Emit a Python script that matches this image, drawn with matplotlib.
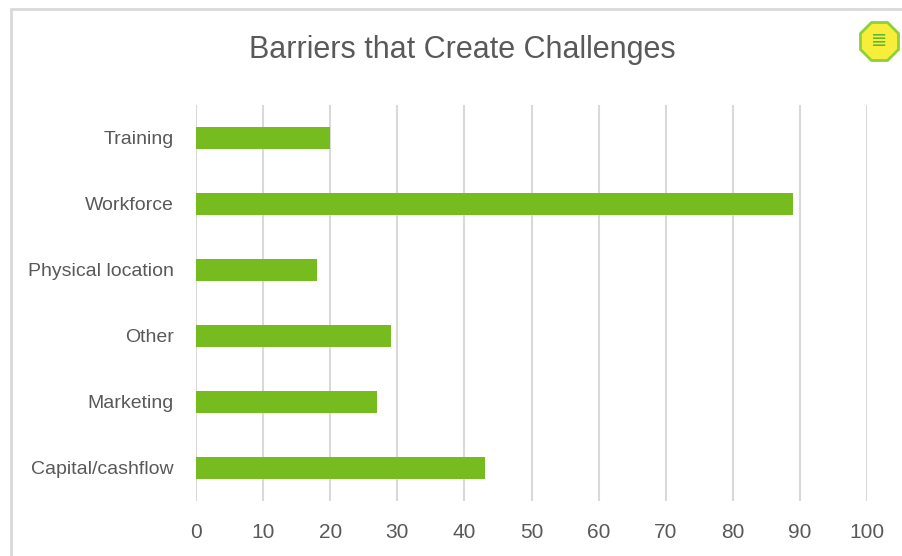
import matplotlib.pyplot as plt
from matplotlib.patches import Rectangle

# ── Data ──────────────────────────────────────────────────────────────────────
categories = ['Capital/cashflow', 'Marketing', 'Other', 'Physical location',
              'Workforce', 'Training']
values = [43, 27, 29, 18, 89, 20]
xticks = list(range(0, 101, 10))

plt.rcParams['font.family'] = ['Liberation Sans', 'DejaVu Sans']
TXT = '#595959'
GRID = '#d9d9d9'
BAR = '#77bc1f'

W, H = 902, 556
fig = plt.figure(figsize=(W / 100, H / 100), dpi=100)

# slide frame
fig.patches.append(Rectangle((11 / W, -0.1), 2, (H - 9) / H + 0.1,
                             transform=fig.transFigure, fill=False,
                             edgecolor=GRID, linewidth=2, zorder=0))

ax = fig.add_axes([196 / W, 1 - 501 / H, (867 - 196) / W, (501 - 105) / H])
ax.barh(range(len(categories)), values, height=0.33, color=BAR, zorder=3)

ax.set_xlim(0, 100)
ax.set_ylim(-0.5, len(categories) - 0.5)
ax.set_xticks(xticks)
ax.set_yticks(range(len(categories)))
ax.set_yticklabels(categories)
ax.tick_params(axis='x', length=0, pad=16, labelsize=15, labelcolor=TXT)
ax.tick_params(axis='y', length=0, pad=16, labelsize=14, labelcolor=TXT)
ax.grid(axis='x', color=GRID, linewidth=1.5, zorder=0)
for s in ax.spines.values():
    s.set_visible(False)

fig.text(462 / W, 1 - 50 / H, 'Barriers that Create Challenges',
         ha='center', va='center', fontsize=22, color=TXT)

# logo stand-in
fig.add_artist(plt.Line2D([879 / W], [1 - 41 / H], marker='8', markersize=30,
                          markerfacecolor='#f6ee3a', markeredgecolor='#8fcf3a',
                          markeredgewidth=2, transform=fig.transFigure))
fig.text(879 / W, 1 - 41 / H, '≣', ha='center', va='center', fontsize=14,
         color='#5cb830', family='DejaVu Sans')

fig.savefig('out.png', dpi=100)
